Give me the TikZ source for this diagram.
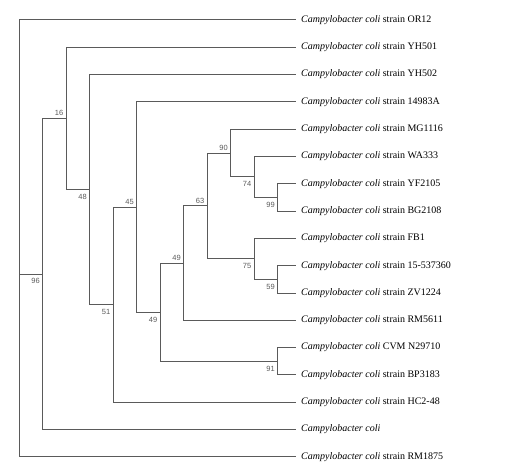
\documentclass[tikz,border=0pt]{standalone}
\usepackage{fontspec}
\setmainfont{Liberation Serif}
\newfontfamily\bsfont{Liberation Sans}
\usetikzlibrary{positioning}
\definecolor{treegray}{RGB}{90,90,90}
\newcommand{\campy}{\textit{Campylobacter coli}}

\begin{document}
\begin{tikzpicture}[
  x=1pt, y=-1pt,
  node distance=2pt and 2pt,
  branch/.style={draw=treegray,line width=1pt},
  taxon/.style={anchor=west,inner xsep=5pt,inner ysep=0pt,font=\fontsize{10}{12}\selectfont},
  boot/.style={font=\bsfont\fontsize{7.5}{9}\selectfont,text=treegray,inner sep=0.5pt}
]
\useasboundingbox (0,0) rectangle (508,473);
% taxa
\node[taxon] (or12)   at (296,20.0)  {\campy{} strain OR12};
\node[taxon] (yh501)  at (296,47.3)  {\campy{} strain YH501};
\node[taxon] (yh502)  at (296,74.6)  {\campy{} strain YH502};
\node[taxon] (a14983) at (296,101.9) {\campy{} strain 14983A};
\node[taxon] (mg1116) at (296,129.2) {\campy{} strain MG1116};
\node[taxon] (wa333)  at (296,156.5) {\campy{} strain WA333};
\node[taxon] (yf2105) at (296,183.8) {\campy{} strain YF2105};
\node[taxon] (bg2108) at (296,211.1) {\campy{} strain BG2108};
\node[taxon] (fb1)    at (296,238.4) {\campy{} strain FB1};
\node[taxon] (s15)    at (296,265.7) {\campy{} strain 15-537360};
\node[taxon] (zv1224) at (296,293.0) {\campy{} strain ZV1224};
\node[taxon] (rm5611) at (296,320.3) {\campy{} strain RM5611};
\node[taxon] (cvm)    at (296,347.6) {\campy{} CVM N29710};
\node[taxon] (bp3183) at (296,374.9) {\campy{} strain BP3183};
\node[taxon] (hc248)  at (296,402.2) {\campy{} strain HC2-48};
\node[taxon] (coli)   at (296,429.5) {\campy};
\node[taxon] (rm1875) at (296,456.8) {\campy{} strain RM1875};
% internal nodes
\coordinate (root) at (19,274.0);
\coordinate (A) at (42.5,274.0);
\coordinate (B) at (66,118.45);
\coordinate (C) at (89.5,189.6);
\coordinate (D) at (113,304.6);
\coordinate (E) at (136.5,207.05);
\coordinate (F) at (160,312.2);
\coordinate (G) at (183.5,263.14);
\coordinate (H) at (277.5,361.25);
\coordinate (I) at (207,205.98);
\coordinate (J) at (230.5,153.09);
\coordinate (K) at (254,258.88);
\coordinate (L) at (254,176.98);
\coordinate (M) at (277.5,197.45);
\coordinate (N) at (277.5,279.35);
% branches
\draw[branch] (root) |- (or12.west);
\draw[branch] (root) |- (A);
\draw[branch] (root) |- (rm1875.west);
\draw[branch] (A) |- (B);
\draw[branch] (A) |- (coli.west);
\draw[branch] (B) |- (yh501.west);
\draw[branch] (B) |- (C);
\draw[branch] (C) |- (yh502.west);
\draw[branch] (C) |- (D);
\draw[branch] (D) |- (E);
\draw[branch] (D) |- (hc248.west);
\draw[branch] (E) |- (a14983.west);
\draw[branch] (E) |- (F);
\draw[branch] (F) |- (G);
\draw[branch] (F) |- (H);
\draw[branch] (G) |- (I);
\draw[branch] (G) |- (rm5611.west);
\draw[branch] (I) |- (J);
\draw[branch] (I) |- (K);
\draw[branch] (J) |- (mg1116.west);
\draw[branch] (J) |- (L);
\draw[branch] (L) |- (wa333.west);
\draw[branch] (L) |- (M);
\draw[branch] (M) |- (yf2105.west);
\draw[branch] (M) |- (bg2108.west);
\draw[branch] (K) |- (fb1.west);
\draw[branch] (K) |- (N);
\draw[branch] (N) |- (s15.west);
\draw[branch] (N) |- (zv1224.west);
\draw[branch] (H) |- (cvm.west);
\draw[branch] (H) |- (bp3183.west);
% bootstrap values
\node[boot,below left=4pt and 2pt of A] (bA) {96};
\node[boot,above left=of B] (bB) {16};
\node[boot,below left=4pt and 2pt of C] (bC) {48};
\node[boot,below left=4pt and 2pt of D] (bD) {51};
\node[boot,above left=of E] (bE) {45};
\node[boot,below left=4pt and 2pt of F] (bF) {49};
\node[boot,above left=of G] (bG) {49};
\node[boot,below left=4pt and 2pt of H] (bH) {91};
\node[boot,above left=of I] (bI) {63};
\node[boot,above left=of J] (bJ) {90};
\node[boot,below left=4pt and 2pt of K] (bK) {75};
\node[boot,below left=4pt and 2pt of L] (bL) {74};
\node[boot,below left=4pt and 2pt of M] (bM) {99};
\node[boot,below left=4pt and 2pt of N] (bN) {59};
\end{tikzpicture}
\end{document}
